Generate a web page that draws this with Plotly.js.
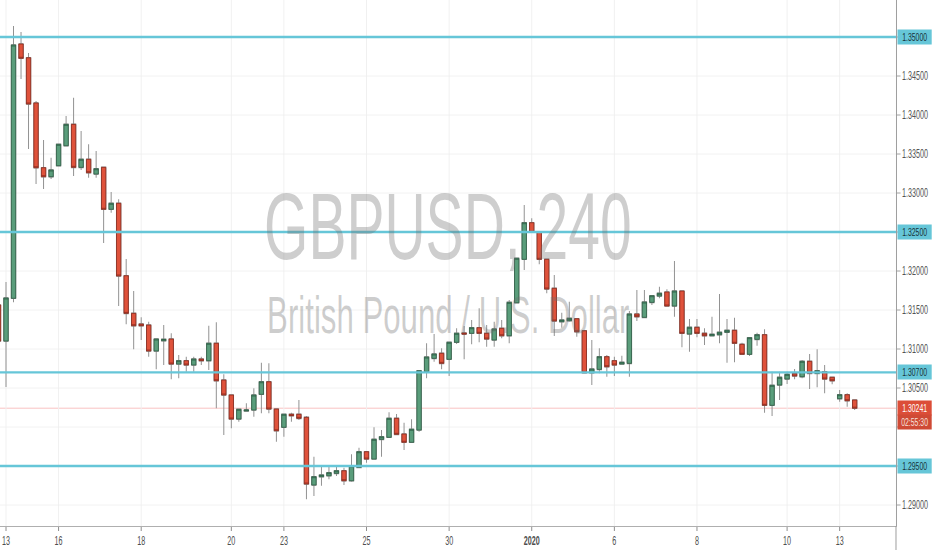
<!DOCTYPE html>
<html>
<head>
<meta charset="utf-8">
<script src="https://cdn.plot.ly/plotly-3.0.1.min.js"></script>
<style>
html,body{margin:0;padding:0;overflow:hidden;background:#fff;}
#wrap{width:932px;height:550px;overflow:hidden;position:relative;}
#chart{width:1553px;height:550px;transform:scaleX(0.600129);transform-origin:0 0;}
</style>
</head>
<body>
<div id="wrap"><div id="chart"></div></div>
<script>
// GBPUSD 4H candles, oldest first
const open = [1.31564,1.31102,1.31650,1.34910,1.34734,1.34154,1.33324,1.33209,1.33350,1.33606,
1.33880,1.33329,1.33432,1.33243,1.33329,1.32791,1.32868,1.31939,1.31457,1.31320,
1.31307,1.30974,1.31106,1.31128,1.30807,1.30850,1.30795,1.30871,1.30850,1.31073,
1.30602,1.30410,1.30102,1.30205,1.30218,1.30419,1.30580,1.30230,1.29996,1.30163,
1.30163,1.30124,1.29256,1.29363,1.29375,1.29406,1.29439,1.29311,1.29483,1.29683,
1.29589,1.29842,1.29868,1.30111,1.29910,1.29804,1.29961,1.30709,1.30880,1.30945,
1.30868,1.31086,1.31205,1.31201,1.31273,1.31201,1.31115,1.31265,1.31170,1.31593,
1.32150,1.32619,1.32496,1.32150,1.31778,1.31350,1.31363,1.31388,1.31234,1.30696,
1.30739,1.30901,1.30850,1.30807,1.30816,1.31448,1.31406,1.31598,1.31679,1.31730,
1.31551,1.31743,1.31192,1.31278,1.31201,1.31170,1.31183,1.31214,1.31239,1.31060,
1.30932,1.31124,1.31183,1.30278,1.30538,1.30615,1.30688,1.30645,1.30842,1.30688,
1.30709,1.30637,1.30363,1.30414,1.30346];
const high = [1.31628,1.31859,1.35141,1.35064,1.34795,1.34179,1.33679,1.33452,1.33628,1.33987,
1.34221,1.33795,1.33624,1.33538,1.33337,1.33013,1.32919,1.32154,1.31743,1.31406,
1.31350,1.31128,1.31307,1.31201,1.30923,1.30901,1.30901,1.30901,1.31298,1.31342,
1.30675,1.30410,1.30227,1.30304,1.30496,1.30824,1.30816,1.30230,1.30163,1.30183,
1.30346,1.30141,1.29619,1.29491,1.29500,1.29491,1.29478,1.29650,1.29734,1.29683,
1.29996,1.29961,1.30188,1.30166,1.30055,1.30098,1.30721,1.31073,1.31192,1.31009,
1.31086,1.31265,1.31295,1.31371,1.31521,1.31307,1.31350,1.31371,1.31628,1.32163,
1.32846,1.32675,1.32496,1.32150,1.31948,1.31465,1.31606,1.31393,1.31234,1.31115,
1.31009,1.30923,1.30901,1.30914,1.31487,1.31756,1.31756,1.31683,1.31798,1.31765,
1.32128,1.31743,1.31384,1.31384,1.31265,1.31414,1.31705,1.31384,1.31401,1.31080,
1.31145,1.31209,1.31252,1.30709,1.30709,1.30709,1.30743,1.30859,1.30936,1.30996,
1.30795,1.30637,1.30474,1.30432,1.30346];
const low = [1.31051,1.30513,1.31600,1.34461,1.33564,1.33115,1.33051,1.33179,1.33346,1.33606,
1.33218,1.33295,1.33196,1.33196,1.32359,1.32747,1.31551,1.31316,1.30996,1.31115,
1.30901,1.30739,1.30795,1.30611,1.30624,1.30709,1.30709,1.30795,1.30730,1.30239,
1.29897,1.29983,1.30068,1.30205,1.30132,1.30175,1.30175,1.29811,1.29875,1.30068,
1.30089,1.29073,1.29115,1.29247,1.29329,1.29371,1.29256,1.29298,1.29470,1.29542,
1.29589,1.29619,1.29868,1.29906,1.29705,1.29804,1.29939,1.30624,1.30837,1.30739,
1.30654,1.31064,1.30868,1.31060,1.31086,1.31029,1.31029,1.31137,1.31073,1.31586,
1.32013,1.32496,1.32086,1.31714,1.31166,1.31273,1.31350,1.31157,1.30688,1.30538,
1.30688,1.30645,1.30654,1.30807,1.30645,1.31359,1.31406,1.31564,1.31650,1.31551,
1.31414,1.31021,1.30965,1.31150,1.31051,1.31170,1.31073,1.30824,1.30829,1.30932,
1.30910,1.31042,1.30183,1.30141,1.30346,1.30551,1.30611,1.30624,1.30487,1.30509,
1.30432,1.30547,1.30324,1.30260,1.30218];
const close = [1.31102,1.31654,1.34897,1.34727,1.34141,1.33324,1.33209,1.33295,1.33624,1.33880,
1.33329,1.33432,1.33260,1.33311,1.32791,1.32868,1.31936,1.31457,1.31298,1.31298,
1.30974,1.31128,1.31124,1.30807,1.30850,1.30795,1.30871,1.30850,1.31073,1.30593,
1.30410,1.30102,1.30227,1.30218,1.30410,1.30580,1.30230,1.29952,1.30163,1.30145,
1.30111,1.29269,1.29363,1.29384,1.29414,1.29439,1.29311,1.29500,1.29683,1.29589,
1.29842,1.29875,1.30111,1.29906,1.29804,1.29970,1.30721,1.30897,1.30936,1.30816,
1.31086,1.31201,1.31192,1.31273,1.31201,1.31128,1.31256,1.31170,1.31598,1.32163,
1.32619,1.32496,1.32150,1.31769,1.31359,1.31371,1.31393,1.31221,1.30696,1.30743,
1.30901,1.30773,1.30795,1.30829,1.31448,1.31414,1.31602,1.31683,1.31714,1.31551,
1.31743,1.31201,1.31278,1.31201,1.31170,1.31188,1.31214,1.31239,1.31073,1.30932,
1.31145,1.31183,1.30278,1.30534,1.30637,1.30675,1.30654,1.30842,1.30688,1.30721,
1.30615,1.30593,1.30414,1.30337,1.30241];

// date labels and the bar index each sits on (bar 0 = first bar of 13 Dec)
const dateTickBars = [0, 7, 18, 30, 37, 48, 59, 70, 81, 92, 104, 111];
const dateTickText = ['13', '16', '18', '20', '23', '25', '30', '<b>2020</b>', '6', '8', '10', '13'];

// price axis ticks
const priceTicks = [1.290, 1.295, 1.300, 1.305, 1.310, 1.315, 1.320, 1.325, 1.330, 1.335, 1.340, 1.345, 1.350];
const priceTickText = ['1.29000', '', '', '1.30500', '1.31000', '1.31500', '1.32000', '', '1.33000', '1.33500', '1.34000', '1.34500', ''];

// drawn horizontal levels
const levels = [1.35000, 1.32500, 1.30700, 1.29500];
const countdown = '02:55:30';
const symbolText = 'GBPUSD, 240';
const descText = 'British Pound / U.S. Dollar';

const firstBar = -1;
const x = open.map((_, i) => i + firstBar);
const bodyHigh = open.map((o, i) => Math.max(o, close[i]));
const bodyLow = open.map((o, i) => Math.min(o, close[i]));
const lastPrice = close[close.length - 1];

const GREEN = '#5a9d7b', GREEN_LINE = '#2d5e45';
const RED = '#df523b', RED_LINE = '#8a2a1d';
const WICK = '#8e8e8e';
const CYAN = '#66c6d8';
const FONT = 'Liberation Sans, Arial, sans-serif';

const wicks = {
  type: 'candlestick', x: x, open: open, high: high, low: low, close: close,
  increasing: {line: {color: WICK, width: 1.6}, fillcolor: WICK},
  decreasing: {line: {color: WICK, width: 1.6}, fillcolor: WICK},
  whiskerwidth: 0, hoverinfo: 'none', showlegend: false
};
const bodies = {
  type: 'candlestick', x: x, open: open, high: bodyHigh, low: bodyLow, close: close,
  increasing: {line: {color: GREEN_LINE, width: 1}, fillcolor: GREEN},
  decreasing: {line: {color: RED_LINE, width: 1}, fillcolor: RED},
  whiskerwidth: 0, hoverinfo: 'none', showlegend: false
};

const shapes = levels.map(v => ({
  type: 'line', xref: 'paper', x0: 0, x1: 1, yref: 'y', y0: v, y1: v,
  line: {color: CYAN, width: 2.3}, layer: 'above'
}));
shapes.unshift({
  type: 'line', xref: 'paper', x0: 0, x1: 1, yref: 'y', y0: lastPrice, y1: lastPrice,
  line: {color: 'rgba(239,83,80,0.45)', width: 1}, layer: 'below'
});
shapes.push({
  type: 'line', xref: 'paper', x0: 1, x1: 1, yref: 'paper', y0: 0, y1: -0.2,
  line: {color: '#9a9a9a', width: 1.6}
});

const boxX = 1 + 2 / 1493;
const annotations = levels.map(v => ({
  xref: 'paper', x: boxX, xanchor: 'left', yref: 'y', y: v, yanchor: 'middle',
  text: v.toFixed(5), showarrow: false, bgcolor: CYAN, borderpad: 1,
  width: 54, height: 12, align: 'center',
  font: {family: FONT, size: 11.5, color: '#17333a'}
}));
annotations.push({
  xref: 'paper', x: boxX, xanchor: 'left', yref: 'y', y: lastPrice, yanchor: 'middle',
  text: lastPrice.toFixed(5), showarrow: false, bgcolor: '#dc4e38', borderpad: 1,
  width: 54, height: 12, align: 'center',
  font: {family: FONT, size: 11.5, color: '#ffffff'}
});
annotations.push({
  xref: 'paper', x: boxX, xanchor: 'left', yref: 'y', y: lastPrice, yanchor: 'middle', yshift: -14,
  text: countdown, showarrow: false, bgcolor: '#cf4a35', borderpad: 1,
  width: 54, height: 12, align: 'center',
  font: {family: FONT, size: 11.5, color: '#f5e0dc'}
});
annotations.push({
  xref: 'paper', x: 0.5, xanchor: 'center', yref: 'paper', y: 0.57, yanchor: 'middle',
  text: symbolText, showarrow: false,
  font: {family: FONT, size: 95, color: 'rgba(110,110,110,0.34)'}
});
annotations.push({
  xref: 'paper', x: 0.5, xanchor: 'center', yref: 'paper', y: 0.402, yanchor: 'middle',
  text: descText, showarrow: false,
  font: {family: FONT, size: 52, color: 'rgba(110,110,110,0.34)'}
});

const layout = {
  width: 1553, height: 550,
  margin: {l: 0, r: 60, t: 0, b: 24, pad: 0},
  paper_bgcolor: '#ffffff', plot_bgcolor: '#ffffff',
  showlegend: false, dragmode: false, hovermode: false,
  boxgap: 0.2, boxgroupgap: 0.27,
  xaxis: {
    range: [-0.8, 118.5], rangeslider: {visible: false},
    tickmode: 'array', tickvals: dateTickBars, ticktext: dateTickText,
    showgrid: true, gridcolor: '#f0f0f0', gridwidth: 1.6, zeroline: false,
    showline: true, linecolor: '#9a9a9a', linewidth: 1,
    ticks: 'outside', ticklen: 4, tickwidth: 1.6, tickcolor: '#8a8a8a',
    tickfont: {family: FONT, size: 12, color: '#4e4e4e'}, fixedrange: true
  },
  yaxis: {
    side: 'right', range: [1.287308, 1.354744],
    tickmode: 'array', tickvals: priceTicks, ticktext: priceTickText,
    showgrid: true, gridcolor: '#efefef', gridwidth: 1, zeroline: false,
    showline: true, linecolor: '#9a9a9a', linewidth: 1.6,
    ticks: 'outside', ticklen: 6, tickwidth: 1, tickcolor: '#8a8a8a',
    tickfont: {family: FONT, size: 12, color: '#555555'}, fixedrange: true
  },
  shapes: shapes,
  annotations: annotations
};

Plotly.newPlot('chart', [wicks, bodies], layout, {displayModeBar: false, staticPlot: true});
</script>
</body>
</html>
